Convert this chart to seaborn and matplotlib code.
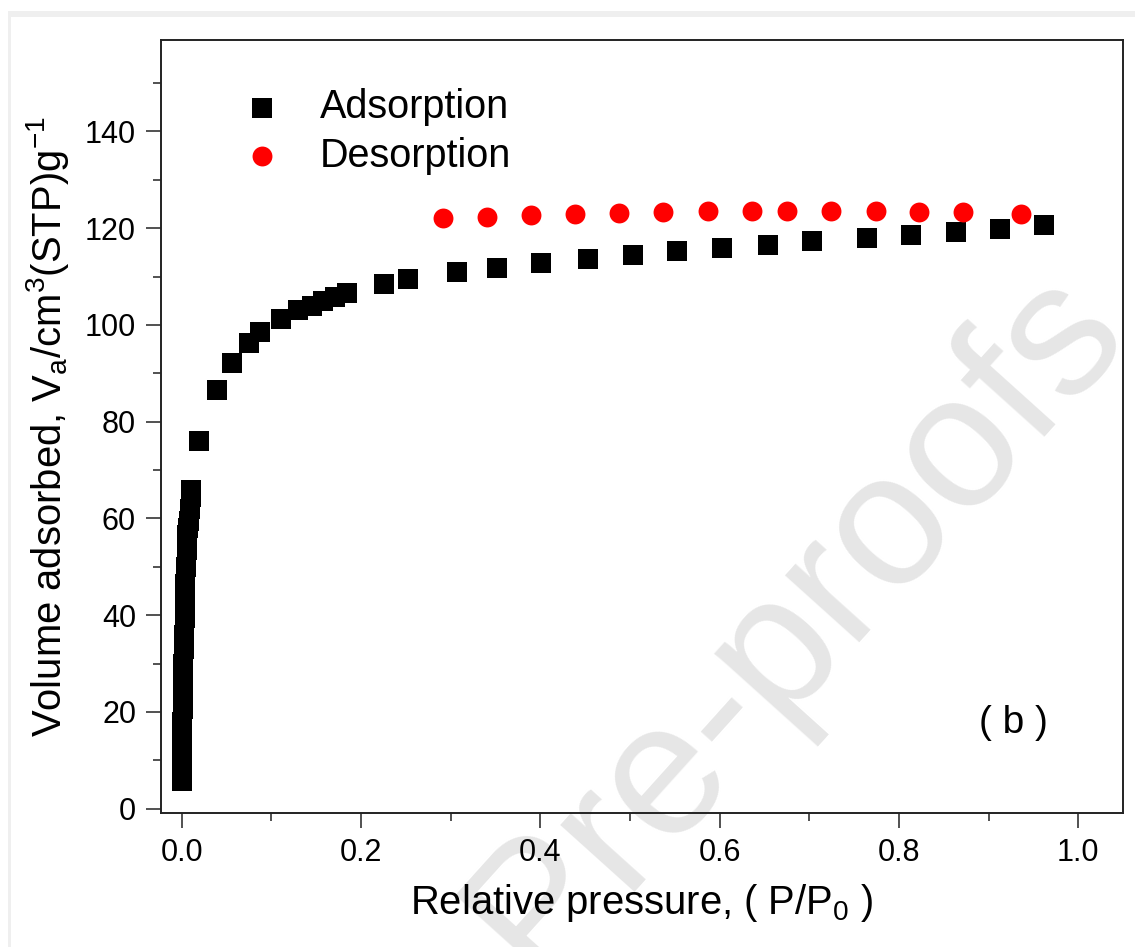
import matplotlib
matplotlib.use("Agg")
import matplotlib.pyplot as plt
from matplotlib.patches import Rectangle
from matplotlib.ticker import MultipleLocator
import seaborn as sns
import pandas as pd

# ---- data ----
ads_p = [0.0001, 0.0002, 0.0003, 0.0004, 0.0005, 0.0006, 0.0008, 0.0010, 0.0012,
         0.0014, 0.0017, 0.0020, 0.0024, 0.0028, 0.0033, 0.0038, 0.0043, 0.0049,
         0.0056, 0.0064, 0.0072, 0.0080, 0.0090, 0.0100, 0.0108,
         0.0197, 0.039, 0.056, 0.075, 0.087, 0.111, 0.130, 0.145, 0.158, 0.171,
         0.184, 0.226, 0.253, 0.307, 0.352, 0.401, 0.453, 0.503, 0.553, 0.603,
         0.654, 0.703, 0.764, 0.814, 0.864, 0.913, 0.962]
ads_v = [5.7, 7.5, 9.5, 11.5, 13.5, 15.5, 18.0, 20.5, 23.0,
         25.0, 27.5, 30.0, 33.0, 36.0, 39.5, 43.0, 46.5, 50.0,
         53.5, 56.5, 58.0, 59.5, 62.0, 64.5, 65.8,
         76.1, 86.6, 92.2, 96.3, 98.5, 101.2, 103.0, 104.0, 105.0, 105.8,
         106.6, 108.4, 109.4, 110.9, 111.8, 112.9, 113.7, 114.5, 115.2, 115.8,
         116.6, 117.3, 118.0, 118.5, 119.2, 119.8, 120.6]

des_p = [0.292, 0.341, 0.390, 0.439, 0.488, 0.537, 0.587, 0.636, 0.675, 0.724,
         0.774, 0.823, 0.872, 0.936]
des_v = [122.0, 122.4, 122.8, 123.0, 123.2, 123.4, 123.6, 123.6, 123.6, 123.6,
         123.5, 123.4, 123.3, 123.0]

x_ticks = [0.0, 0.2, 0.4, 0.6, 0.8, 1.0]
y_ticks = [0, 20, 40, 60, 80, 100, 120, 140]

ads_df = pd.DataFrame({"p": ads_p, "v": ads_v})
des_df = pd.DataFrame({"p": des_p, "v": des_v})

sns.set_style("white")
plt.rcParams["font.family"] = ["Liberation Sans", "DejaVu Sans"]
plt.rcParams["mathtext.fontset"] = "custom"
plt.rcParams["mathtext.rm"] = "Liberation Sans"
plt.rcParams["mathtext.it"] = "Liberation Sans:italic"
plt.rcParams["mathtext.bf"] = "Liberation Sans:bold"
plt.rcParams["text.color"] = "black"
plt.rcParams["axes.labelcolor"] = "black"

W, H = 1135, 947
fig = plt.figure(figsize=(W / 100, H / 100), dpi=100)
fig.patch.set_facecolor("white")

# page frame of the screenshot
fig.patches.append(Rectangle((8 / W, 1 - 17 / H), 1 - 8 / W, 6 / H,
                             transform=fig.transFigure, facecolor="#efefef",
                             edgecolor="none", zorder=-5))
fig.patches.append(Rectangle((8 / W, 0), 3 / W, 1 - 11 / H,
                             transform=fig.transFigure, facecolor="#efefef",
                             edgecolor="none", zorder=-5))

# watermark
fig.text(796 / W, 1 - 622 / H, "Pre-proofs", rotation=48, fontsize=136,
         color="#e6e6e6", ha="center", va="center", zorder=-4,
         rotation_mode="anchor")

ax = fig.add_axes([161 / W, 1 - 813 / H, (1123 - 161) / W, (813 - 40) / H])
ax.set_facecolor("none")

sns.scatterplot(data=ads_df, x="p", y="v", ax=ax, marker="s", s=190,
                color="black", linewidth=0, label="Adsorption", zorder=3)
sns.scatterplot(data=des_df, x="p", y="v", ax=ax, marker="o", s=205,
                color="#ff0000", linewidth=0, label="Desorption", zorder=3)

ax.set_xlim(-0.023, 1.050)
ax.set_ylim(-0.9, 158.9)
ax.set_xticks(x_ticks)
ax.set_xticklabels([f"{t:.1f}" for t in x_ticks])
ax.set_yticks(y_ticks)
ax.set_yticklabels([str(t) for t in y_ticks])
ax.xaxis.set_minor_locator(MultipleLocator(0.1))
ax.yaxis.set_minor_locator(MultipleLocator(10))

for sp in ax.spines.values():
    sp.set_visible(True)
    sp.set_color("#222222")
    sp.set_linewidth(1.4)

ax.tick_params(which="major", direction="out", length=11, width=1.1,
               color="#222222", labelsize=22, pad=7, labelcolor="black")
ax.tick_params(which="minor", direction="out", length=6, width=1.1,
               color="#222222")
ax.tick_params(bottom=True, left=True, top=False, right=False)
ax.tick_params(which="minor", bottom=True, left=True, top=False, right=False)

ax.set_xlabel(r"Relative pressure, ( P/P$_\mathregular{0}$ )", fontsize=28.8,
              labelpad=10)
ax.set_ylabel(r"Volume adsorbed, V$_\mathregular{a}$/cm$^\mathregular{3}$(STP)g$^\mathregular{-1}$",
              fontsize=28.8, labelpad=10)

ax.text(1013, H - 723, "( b )", fontsize=28, ha="center", va="center",
        transform=None)

leg = ax.legend(loc="upper left", bbox_to_anchor=((242.7 - 161) / 962, 1 - (88 - 40) / 773),
                frameon=False, fontsize=28.5, handlelength=1.0, handletextpad=0.95,
                borderpad=0, borderaxespad=0, labelspacing=0.27, markerscale=1.0)

fig.savefig("out.png", dpi=100)
